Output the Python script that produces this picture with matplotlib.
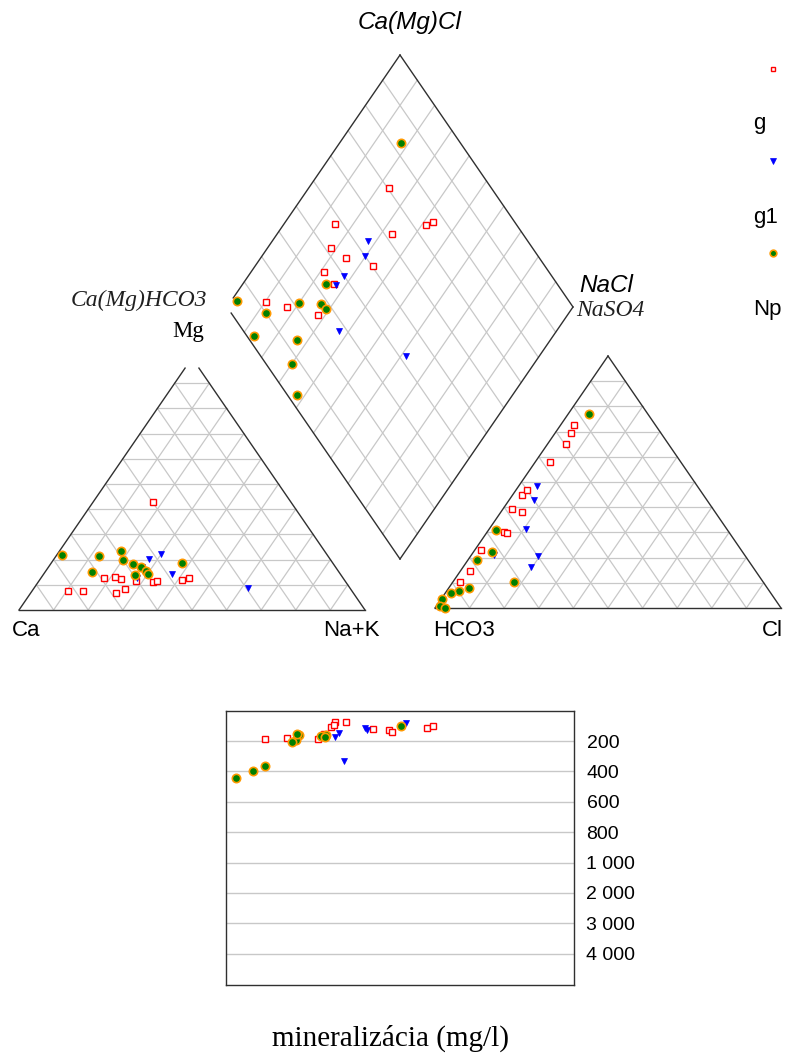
import numpy as np
import matplotlib.pyplot as plt

# Piper diagram with mineralisation panel, shares in % of meq
# group "g"
g_mg = [12.3, 7.5, 11.0, 11.9, 12.8, 12.6, 6.9, 11.6, 13.0, 8.2, 7.5, 42.7, 11.4]
g_nak = [23.2, 14.8, 33.3, 41.3, 42.7, 18.3, 24.6, 34.0, 21.2, 26.4, 10.3, 17.4, 28.0]
g_so4 = [65.2, 44.7, 58.0, 69.3, 72.5, 39.4, 38.1, 47.0, 30.0, 29.6, 10.4, 14.5, 23.1]
g_cl = [5.4, 2.9, 4.1, 4.7, 3.9, 2.5, 6.1, 3.2, 5.0, 5.9, 1.9, 2.9, 1.7]
g_tds = [130, 77, 141, 117, 100, 109, 74, 123, 155, 91, 189, 179, 187]

# group "g1"
g1_mg = [20.2, 22.2, 12.8, 17.0, 14.3, 8.9]
g1_nak = [27.5, 29.9, 27.6, 27.0, 37.1, 61.6]
g1_so4 = [48.6, 43.0, 20.5, 16.2, 21.1, 31.5]
g1_cl = [5.2, 7.1, 19.6, 19.7, 6.5, 10.6]
g1_tds = [128, 112, 332, 176, 144, 81]

# group "Np"
np_mg = [23.4, 18.1, 21.8, 21.4, 19.8, 17.1, 15.5, 15.2, 13.8, 14.2, 18.5]
np_nak = [17.8, 24.0, 1.6, 12.4, 20.2, 26.8, 28.9, 13.4, 26.6, 30.1, 37.9]
np_so4 = [77.0, 31.1, 3.6, 6.8, 19.1, 22.4, 10.5, 0.9, 7.8, 5.9, 0.1]
np_cl = [5.9, 2.1, 0.3, 3.4, 2.5, 5.4, 17.6, 1.1, 5.8, 1.7, 2.7]
np_tds = [98, 157, 443, 364, 160, 166, 176, 394, 194, 208, 151]

tds_ticks = [200, 400, 600, 800, 1000, 2000, 3000, 4000]
tds_labels = ["200", "400", "600", "800", "1 000", "2 000", "3 000", "4 000"]

# layout (figure pixels)
TRI_W, TRI_H = 346, 252
CAT_X0, CAT_Y0 = 19, 610
AN_X0, AN_Y0 = 435, 608
DIA_X, DIA_Y, DIA_W, DIA_H = 400, 559, 173, 252

EDGE = "#303030"
GRID = "#c8c8c8"
SANS = "Liberation Sans"
SERIF = "Liberation Serif"

STYLES = {
    "g": dict(marker="s", ms=4, mfc="white", mec="#ff0000", mew=1.0, ls="none"),
    "g1": dict(marker="v", ms=5, mfc="#0000ff", mec="#0000ff", mew=0.5, ls="none"),
    "Np": dict(marker="o", ms=6, mfc="#008000", mec="#ff9900", mew=1.2, ls="none"),
}


def tri_xy(right, top, x0, y0):
    right = np.asarray(right, float)
    top = np.asarray(top, float)
    return x0 + TRI_W * (right + top / 2), y0 - TRI_H * top


def dia_xy(a, b):
    a = np.asarray(a, float)
    b = np.asarray(b, float)
    return DIA_X + DIA_W * (a + b - 1), DIA_Y - DIA_H * (1 - a + b)


def seg(ax, p, q, **kw):
    ax.plot([p[0], q[0]], [p[1], q[1]], **kw)


def draw_triangle(ax, x0, y0, apex_gap=0.0):
    def P(r, t):
        return tri_xy(r, t, x0, y0)
    for i in range(1, 10):
        f = i / 10
        seg(ax, P(0, f), P(1 - f, f), color=GRID, lw=0.9, zorder=1)
        seg(ax, P(f, 0), P(f, 1 - f), color=GRID, lw=0.9, zorder=1)
        seg(ax, P(1 - f, 0), P(0, 1 - f), color=GRID, lw=0.9, zorder=1)
    seg(ax, P(0, 0), P(1, 0), color=EDGE, lw=1.0, zorder=2)
    seg(ax, P(0, 0), P(0, 1 - apex_gap), color=EDGE, lw=1.0, zorder=2)
    seg(ax, P(1, 0), P(apex_gap, 1 - apex_gap), color=EDGE, lw=1.0, zorder=2)


def draw_diamond(ax):
    for i in range(1, 10):
        f = i / 10
        seg(ax, dia_xy(f, 0), dia_xy(f, 1), color=GRID, lw=0.9, zorder=1)
        seg(ax, dia_xy(0, f), dia_xy(1, f), color=GRID, lw=0.9, zorder=1)
    seg(ax, dia_xy(1, 0), dia_xy(1, 1), color=EDGE, lw=1.0, zorder=2)
    seg(ax, dia_xy(1, 1), dia_xy(0, 1), color=EDGE, lw=1.0, zorder=2)
    seg(ax, dia_xy(0, 1), dia_xy(0, 0.036), color=EDGE, lw=1.0, zorder=2)
    seg(ax, dia_xy(0.024, 0), dia_xy(1, 0), color=EDGE, lw=1.0, zorder=2)


def tds_pos(v):
    v = np.asarray(v, float)
    return np.where(v <= 1000, v / 200, 5 + (v - 1000) / 1000)


fig = plt.figure(figsize=(7.85, 10.54), dpi=100)
ax = fig.add_axes([0, 0, 1, 1])
ax.set_xlim(0, 785)
ax.set_ylim(1054, 0)
ax.axis("off")

draw_triangle(ax, CAT_X0, CAT_Y0, apex_gap=0.04)
draw_triangle(ax, AN_X0, AN_Y0)
draw_diamond(ax)

# mineralisation panel shares the diamond's horizontal extent
tax = fig.add_axes([226 / 785, (1054 - 985) / 1054, 348 / 785, 274.3 / 1054])
tax.set_xlim(-1, 1)
tax.set_ylim(9.03, 0)
tax.set_xticks([])
tax.set_yticks(tds_pos(tds_ticks))
tax.set_yticklabels(tds_labels, fontsize=14, family=SANS)
tax.yaxis.tick_right()
tax.tick_params(axis="y", length=0, pad=9)
tax.grid(axis="y", color=GRID, lw=1.0)
tax.set_axisbelow(True)
for s in tax.spines.values():
    s.set_color(EDGE)
    s.set_linewidth(1.0)

groups = [
    ("g", g_mg, g_nak, g_so4, g_cl, g_tds),
    ("g1", g1_mg, g1_nak, g1_so4, g1_cl, g1_tds),
    ("Np", np_mg, np_nak, np_so4, np_cl, np_tds),
]
for z, (name, mg, nak, so4, cl, tds) in enumerate(groups):
    st = STYLES[name]
    mg = np.array(mg) / 100
    nak = np.array(nak) / 100
    so4 = np.array(so4) / 100
    cl = np.array(cl) / 100
    cx, cy = tri_xy(nak, mg, CAT_X0, CAT_Y0)
    ax.plot(cx, cy, zorder=5 + z, **st)
    axx, ayy = tri_xy(cl, so4, AN_X0, AN_Y0)
    ax.plot(axx, ayy, zorder=5 + z, **st)
    dx, dy = dia_xy(nak, so4 + cl)
    ax.plot(dx, dy, zorder=5 + z, **st)
    tax.plot(nak + so4 + cl - 1, tds_pos(tds), zorder=5 + z, **st)

# legend: marker with its label below
leg_y = [69, 161, 253]
leg_lab_y = [124, 217, 310]
for (name, *_), my, ly in zip(groups, leg_y, leg_lab_y):
    st = dict(STYLES[name])
    st["ms"] = st["ms"] * 0.8
    ax.plot([773], [my], **st)
    ax.text(753, ly, name, fontsize=16, family=SANS, ha="left", va="center")

# corner labels
ax.text(410, 23, "Ca(Mg)Cl", fontsize=17.5, family=SANS, style="italic",
        ha="center", va="center")
ax.text(207, 300, "Ca(Mg)HCO3", fontsize=17, family=SERIF, style="italic",
        ha="right", va="center", color="#202020")
ax.text(204, 331, "Mg", fontsize=16.5, family=SERIF, ha="right", va="center")
ax.text(579, 285, "NaCl", fontsize=17.5, family=SANS, style="italic",
        ha="left", va="center")
ax.text(576, 310, "NaSO4", fontsize=17, family=SERIF, style="italic",
        ha="left", va="center", color="#202020")
ax.text(12, 631, "Ca", fontsize=16, family=SANS, ha="left", va="center")
ax.text(323, 631, "Na+K", fontsize=16, family=SANS, ha="left", va="center")
ax.text(433, 631, "HCO3", fontsize=16, family=SANS, ha="left", va="center")
ax.text(762, 631, "Cl", fontsize=16, family=SANS, ha="left", va="center")
ax.text(391, 1038, "mineralizácia (mg/l)", fontsize=21, family=SERIF,
        ha="center", va="center")

fig.savefig("out.png", dpi=100)
